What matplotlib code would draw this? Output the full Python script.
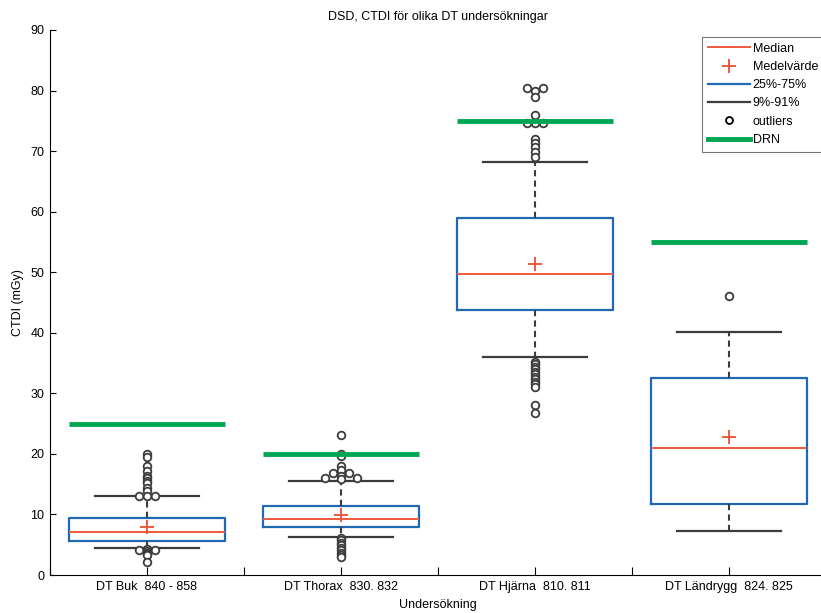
import matplotlib.pyplot as plt
from matplotlib.lines import Line2D

plt.rcParams['font.family'] = ['Liberation Sans', 'DejaVu Sans']
plt.rcParams['font.size'] = 9

# Data
categories = ["DT Buk  840 - 858", "DT Thorax  830. 832",
              "DT Hjärna  810. 811", "DT Ländrygg  824. 825"]
q1 = [5.6, 8.0, 43.8, 11.8]
median = [7.1, 9.2, 49.7, 21.0]
q3 = [9.35, 11.4, 59.0, 32.6]
whisker_lo = [4.5, 6.2, 36.0, 7.2]
whisker_hi = [13.0, 15.6, 68.2, 40.2]
mean = [7.9, 9.9, 51.4, 22.8]
drn = [25, 20, 75, 55]

# outliers per group (value, small sideways jitter used for duplicates)
out_buk = [19.9, 19.5, 18.0, 17.2, 16.4, 16.0, 15.6, 15.2, 14.3, 13.8, 13.0, 13.0, 13.0,
           4.3, 4.1, 4.1, 3.9, 3.7, 3.5, 3.3, 2.2]
jit_buk = [0, 0, 0, 0, 0, 0, 0, 0, 0, 0, -0.04, 0, 0.04,
           0, -0.04, 0.04, 0, 0, 0, 0, 0]
out_thorax = [23.1, 20.0, 19.7, 18.0, 17.3, 16.8, 16.8, 16.4, 16.0, 16.0, 15.9,
              6.1, 5.7, 5.3, 4.9, 4.5, 4.1, 3.7, 3.3, 2.9]
jit_thorax = [0, 0, 0, 0, 0, -0.04, 0.04, 0, -0.08, 0.08, 0,
              0, 0, 0, 0, 0, 0, 0, 0, 0]
out_hjarna = [80.4, 80.4, 80.0, 78.9, 76.0, 74.6, 74.6, 74.6, 72.0, 71.3, 70.6, 69.9, 69.1,
              35.2, 34.8, 34.4, 34.0, 33.6, 33.2, 32.7, 32.3, 31.9, 31.5, 31.1, 28.1, 26.8]
jit_hjarna = [-0.04, 0.04, 0, 0, 0, -0.04, 0, 0.04, 0, 0, 0, 0, 0,
              0, 0, 0, 0, 0, 0, 0, 0, 0, 0, 0, 0, 0]
out_landrygg = [46.0]
jit_landrygg = [0]

outliers = [out_buk, out_thorax, out_hjarna, out_landrygg]
jitters = [jit_buk, jit_thorax, jit_hjarna, jit_landrygg]

red = '#f05a3c'
blue = '#1f68b3'
gray = '#3c3c3c'
green = '#00a651'

fig = plt.figure(figsize=(8.21, 6.13), dpi=100)
ax = fig.add_axes([50 / 821, 38 / 613, 776 / 821, 545 / 613])

positions = list(range(1, len(categories) + 1))
stats = []
for i in range(len(categories)):
    stats.append({'med': median[i], 'q1': q1[i], 'q3': q3[i],
                  'whislo': whisker_lo[i], 'whishi': whisker_hi[i],
                  'mean': mean[i], 'fliers': []})

ax.bxp(stats, positions=positions, widths=0.8, capwidths=0.54,
       showmeans=True, showfliers=False,
       boxprops=dict(color=blue, linewidth=1.6),
       medianprops=dict(color=red, linewidth=1.4),
       whiskerprops=dict(color=gray, linewidth=1.5, linestyle=(0, (3, 2))),
       capprops=dict(color=gray, linewidth=1.6),
       meanprops=dict(marker='+', markeredgecolor=red, markersize=10,
                      markeredgewidth=1.4))

for i, p in enumerate(positions):
    xs = [p + j for j in jitters[i]]
    ax.plot(xs, outliers[i], linestyle='none', marker='o', markersize=5.5,
            markerfacecolor='white', markeredgecolor=gray, markeredgewidth=1.3)

ax.hlines(drn, [p - 0.4 for p in positions], [p + 0.4 for p in positions],
          color=green, linewidth=3.5)

ax.set_xlim(0.5, 4.5)
ax.set_ylim(0, 90)
ax.set_yticks(range(0, 91, 10))
ax.set_xticks(positions)
ax.set_xticklabels(categories)
ax.set_xticks([0.5, 1.5, 2.5, 3.5, 4.5], minor=True)
ax.tick_params(axis='both', which='both', direction='in', colors='black', labelsize=9)
ax.tick_params(axis='y', length=4.5, width=0.8, pad=4)
ax.tick_params(axis='x', which='both', length=6, width=0.8, pad=4)
ax.spines['top'].set_visible(False)
ax.spines['right'].set_visible(False)

ax.set_title("DSD, CTDI för olika DT undersökningar", fontsize=9, pad=7.5)
ax.set_xlabel("Undersökning", fontsize=9, labelpad=4.5)
ax.set_ylabel("CTDI (mGy)", fontsize=9, labelpad=5)

handles = [
    Line2D([], [], color=red, linewidth=1.4),
    Line2D([], [], linestyle='none', marker='+', color=red, markersize=10, markeredgewidth=1.4),
    Line2D([], [], color=blue, linewidth=1.6),
    Line2D([], [], color=gray, linewidth=1.6),
    Line2D([], [], linestyle='none', marker='o', markersize=5, markerfacecolor='white',
           markeredgecolor='black', markeredgewidth=1.3),
    Line2D([], [], color=green, linewidth=3.5),
]
labels = ["Median", "Medelvärde", "25%-75%", "9%-91%", "outliers", "DRN"]
leg = fig.legend(handles, labels, loc='upper left', bbox_to_anchor=(702 / 821, 1 - 37 / 613),
                 frameon=True, fancybox=False, edgecolor='#555555', fontsize=9,
                 handlelength=3.4, handletextpad=0.2, labelspacing=0.5,
                 borderpad=0.45, borderaxespad=0)
leg.get_frame().set_linewidth(0.8)

fig.savefig("out.png", dpi=100)
